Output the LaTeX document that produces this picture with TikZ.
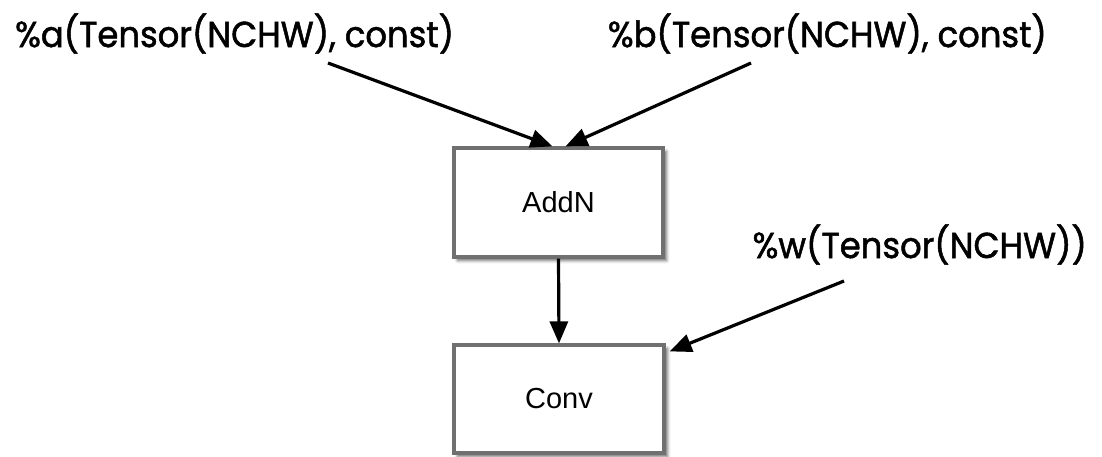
\documentclass[tikz,border=0pt]{standalone}
\usepackage{fontspec}
\setmainfont{Liberation Sans}
\newfontfamily\labelfont{Poppins}[FakeBold=1.5]
\usetikzlibrary{arrows.meta,shadows.blur}
\newcommand{\lbltext}[1]{\scalebox{0.94}[1]{\labelfont #1}}
\begin{document}
\begin{tikzpicture}[x=1pt,y=-1pt,
  opbox/.style={draw=black!56, line width=3.2pt, fill=white, minimum width=209pt, minimum height=109pt, inner sep=0pt,
    blur shadow={shadow xshift=3.5pt, shadow yshift=-3.5pt, shadow blur radius=3pt, shadow opacity=60},
    font=\fontsize{29}{34}\selectfont},
  lbl/.style={anchor=base west, inner sep=0pt, font=\fontsize{36}{43}\selectfont},
  conn/.style={line width=3.2pt, -{Triangle[length=22pt,width=18pt]}}]
\useasboundingbox (0,0) rectangle (1102,456);
\node[opbox] (addn) at (558.5,202.5) {AddN};
\node[opbox, minimum width=210pt, minimum height=108pt] (conv) at (559,399) {Conv};
\node[lbl] (la) at (15,47) {\lbltext{\%a(Tensor(NCHW), const)}};
\node[lbl, anchor=base east] (lb) at (1047,47) {\lbltext{\%b(Tensor(NCHW), const)}};
\node[lbl, anchor=base east] (lw) at (1087,258) {\lbltext{\%w(Tensor(NCHW))}};
\coordinate (sa) at (328,63);
\coordinate (sb) at (751,63);
\coordinate (sw) at (844,281);
\draw[conn] (sa) -- ([xshift=-6pt]addn.north);
\draw[conn] (sb) -- ([xshift=7pt]addn.north);
\draw[conn] (addn.south) -- (conv.north);
\draw[conn] (sw) -- ([xshift=4pt,yshift=-8pt]conv.north east);
\end{tikzpicture}
\end{document}
